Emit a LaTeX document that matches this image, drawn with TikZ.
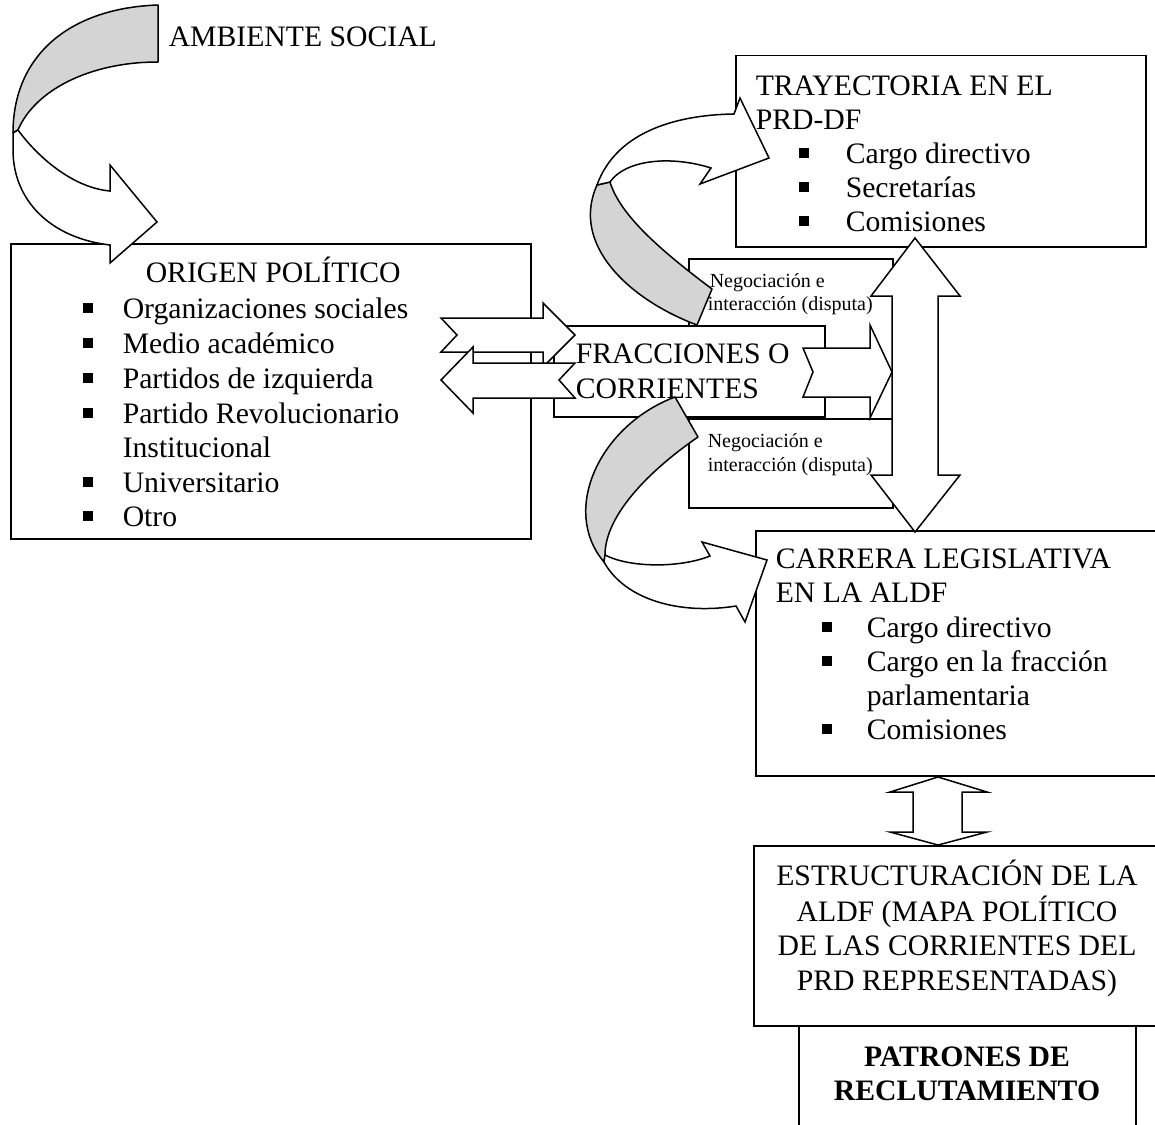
\documentclass[tikz,border=0pt]{standalone}
\usepackage{fontspec}
\setmainfont{Liberation Serif}
\begin{document}
\begin{tikzpicture}[x=1pt,y=-1pt,line width=1.5pt,
  box/.style={draw,line width=1.5pt,fill=white,inner sep=0pt,anchor=north west},
  arr/.style={draw,line width=1.5pt,fill=white,line join=miter},
  shadeband/.style={draw,line width=1.5pt,fill=black!17,line join=round},
  big/.style={font=\fontsize{29.7}{35}\selectfont,anchor=base west,inner sep=0pt},
  bigc/.style={font=\fontsize{29.7}{35}\selectfont,anchor=base,inner sep=0pt},
  bigb/.style={font=\fontsize{29.7}{35}\selectfont\bfseries,anchor=base,inner sep=0pt},
  small/.style={font=\fontsize{20}{24}\selectfont,anchor=base west,inner sep=0pt},
  bul/.style={fill=black,draw=none,inner sep=0pt,minimum size=10pt}]
\useasboundingbox (0,0) rectangle (1155,1124);
\newcommand\bitem[5]{\node[bul] (#1b) at (#2,#4-10) {}; \node[big] (#1) at (#3,#4) {#5};}

% ---------- boxes ----------
\node[box,minimum width=520pt,minimum height=295pt] (origen) at (10,243) {};
\node[box,minimum width=410pt,minimum height=191pt] (tray) at (735,55) {};
\node[box,minimum width=204pt,minimum height=160pt] (neg1) at (688,258) {};
\node[box,minimum width=204pt,minimum height=89pt] (neg2) at (688,418) {};
\node[box,minimum width=271pt,minimum height=91pt] (frac) at (553,325) {};
\node[box,minimum width=405pt,minimum height=245pt] (carr) at (755,530) {};
\node[box,minimum width=337pt,minimum height=110pt] (patr) at (798,1025) {};
\node[box,minimum width=407pt,minimum height=180pt] (estr) at (753,845) {};

% negotiation texts
\node[small] (n1a) at (709,287) {Negociación e};
\node[small] (n1b) at (707,310) {interacción (disputa)};
\node[small] (n2a) at (707,447) {Negociación e};
\node[small] (n2b) at (707,471) {interacción (disputa)};

% ---------- block arrows ----------
% vertical double arrow TRAYECTORIA <-> CARRERA
\draw[arr] (915,238) -- (960,296) -- (938,296) -- (938,475) -- (960,475) -- (915,532)
  -- (871,475) -- (892,475) -- (892,296) -- (871,296) -- cycle;
% small double arrow CARRERA <-> ESTRUCTURACION
\draw[arr] (938,777) -- (987,792) -- (962,792) -- (962,832) -- (987,832) -- (938,845)
  -- (890,832) -- (913,832) -- (913,792) -- (890,792) -- cycle;
% notched arrow FRACCIONES -> negotiation
\draw[arr] (803,348) -- (870,348) -- (870,325) -- (892,372) -- (870,418) -- (870,397)
  -- (803,397) -- (813,372) -- cycle;
% notched arrows ORIGEN <-> FRACCIONES
\draw[arr] (441,318) -- (543,318) -- (543,303) -- (575,335) -- (543,367) -- (543,352)
  -- (441,352) -- (457,335) -- cycle;
\draw[arr] (441,380) -- (473,347) -- (473,363) -- (575,363) -- (559,380) -- (575,398)
  -- (473,398) -- (473,413) -- cycle;

\node[big] (f1) at (575,363) {FRACCIONES O};
\node[big] (f2) at (575,398) {CORRIENTES};

% ---------- curved arrows ----------
% AMBIENTE SOCIAL -> ORIGEN
\draw[shadeband] (158,5) .. controls (70,8) and (13,55) .. (13,133) -- (18,130)
  .. controls (35,90) and (90,62) .. (158,62) -- cycle;
\draw[arr] (18,130) .. controls (40,160) and (75,188) .. (110,191) -- (110,165) -- (157,222)
  -- (110,263) -- (110,245) .. controls (50,238) and (13,200) .. (13,150) -- (13,133) -- cycle;
% negotiation -> TRAYECTORIA
\draw[shadeband] (712,289) -- (697,325) .. controls (630,300) and (570,245) .. (597,185)
  -- (610,182) .. controls (620,215) and (660,250) .. (712,289) -- cycle;
\draw[arr] (597,185) .. controls (615,135) and (670,115) .. (734,114) -- (740,98) -- (769,158)
  -- (700,184) -- (711,168) .. controls (670,155) and (625,160) .. (610,182) -- cycle;
% FRACCIONES -> CARRERA
\draw[shadeband] (675,397) -- (698,437) .. controls (650,470) and (605,515) .. (605,555)
  -- (604,562) .. controls (560,510) and (600,425) .. (675,397) -- cycle;
\draw[arr] (605,555) .. controls (630,568) and (680,568) .. (710,556) -- (702,542) -- (767,560)
  -- (745,622) -- (736,606) .. controls (680,615) and (625,600) .. (604,562) -- cycle;

% ---------- texts ----------
\node[big] (amb) at (168,47) {AMBIENTE SOCIAL};

\node[big] (o0) at (145,282) {ORIGEN POLÍTICO};
\bitem{o1}{88}{122}{318}{Organizaciones sociales}
\bitem{o2}{88}{122}{353}{Medio académico}
\bitem{o3}{88}{122}{388}{Partidos de izquierda}
\bitem{o4}{88}{122}{423}{Partido Revolucionario}
\node[big] (o4b) at (122,457) {Institucional};
\bitem{o5}{88}{122}{492}{Universitario}
\bitem{o6}{88}{122}{526}{Otro}

\node[big] (t0) at (755,95) {TRAYECTORIA EN EL};
\node[big] (t0b) at (755,129) {PRD-DF};
\bitem{t1}{804}{845}{163}{Cargo directivo}
\bitem{t2}{804}{845}{197}{Secretarías}
\bitem{t3}{804}{845}{231}{Comisiones}

\node[big] (c0) at (775,568) {CARRERA LEGISLATIVA};
\node[big] (c0b) at (775,602) {EN LA ALDF};
\bitem{c1}{827}{866}{637}{Cargo directivo}
\bitem{c2}{827}{866}{671}{Cargo en la fracción}
\node[big] (c2b) at (866,705) {parlamentaria};
\bitem{c3}{827}{866}{739}{Comisiones}

\node[bigc] (e1) at (957,885) {ESTRUCTURACIÓN DE LA};
\node[bigc] (e2) at (957,921) {ALDF (MAPA POLÍTICO};
\node[bigc] (e3) at (957,955) {DE LAS CORRIENTES DEL};
\node[bigc] (e4) at (957,990) {PRD REPRESENTADAS)};

\node[bigb] (p1) at (967,1066) {PATRONES DE};
\node[bigb] (p2) at (967,1100) {RECLUTAMIENTO};
\end{tikzpicture}
\end{document}
